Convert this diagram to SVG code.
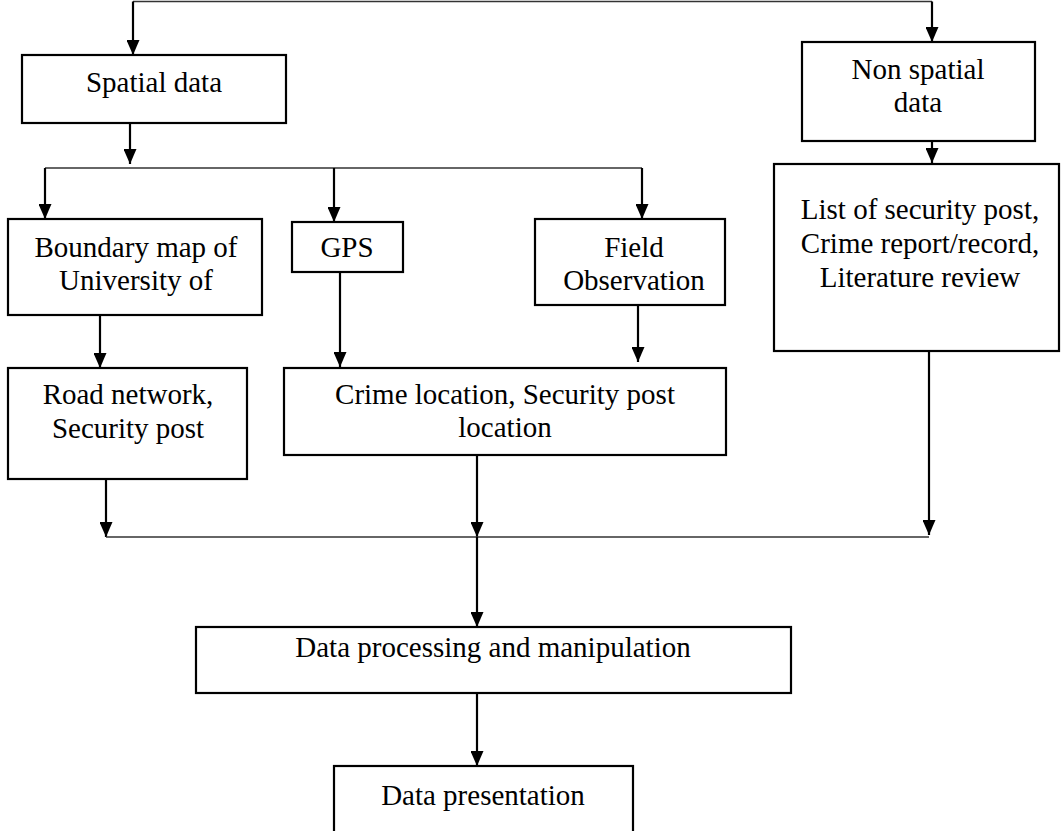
<svg xmlns="http://www.w3.org/2000/svg" width="1061" height="831" viewBox="0 0 1061 831">
<defs>
<marker id="ah" viewBox="0 0 15 13" refX="15" refY="6.5" markerWidth="15" markerHeight="13" markerUnits="userSpaceOnUse" orient="auto">
<path d="M0,0 L15,6.5 L0,13 z" fill="#000"/>
</marker>
<style>
.box{fill:#fff;stroke:#000;stroke-width:2.2}
.t{font-family:"Liberation Serif","Times New Roman",serif;font-size:29px;fill:#000;text-anchor:middle}
.c{fill:none;stroke:#000;stroke-width:2.2}
.h{fill:none;stroke:#333;stroke-width:1.4}
.a{marker-end:url(#ah)}
</style>
</defs>
<rect width="1061" height="831" fill="#fff"/>
<g id="connectors">
<path class="h" d="M133,1.5 H932"/>
<path class="c a" d="M133,1.5 V55"/>
<path class="c a" d="M932,1.5 V42"/>
<path class="c a" d="M130,123 V164"/>
<path class="h" d="M45,168 H642"/>
<path class="c a" d="M45,168 V219"/>
<path class="c a" d="M334,168 V222"/>
<path class="c a" d="M642,168 V219"/>
<path class="c a" d="M100,315 V368"/>
<path class="c a" d="M340,272 V367"/>
<path class="c a" d="M638,305 V362"/>
<path class="c a" d="M932,123 V163"/>
<path class="c a" d="M106,462 V537"/>
<path class="c a" d="M477,455 V537"/>
<path class="c a" d="M929,351 V535"/>
<path class="h" d="M106,537 H929"/>
<path class="c a" d="M477,537 V627"/>
<path class="c a" d="M477,693 V766"/>
</g>
<g id="spatial">
<rect class="box" x="22" y="55" width="264" height="68"/>
<text class="t" x="154" y="92">Spatial data</text>
</g>
<g id="nonspatial">
<rect class="box" x="802" y="42" width="233" height="99"/>
<text class="t" x="918" y="79">Non spatial</text>
<text class="t" x="918" y="112">data</text>
</g>
<g id="boundary">
<rect class="box" x="8" y="219" width="254" height="96"/>
<text class="t" x="136" y="257">Boundary map of</text>
<text class="t" x="136" y="290">University of</text>
</g>
<g id="gps">
<rect class="box" x="292" y="222" width="111" height="50"/>
<text class="t" x="347" y="257">GPS</text>
</g>
<g id="field">
<rect class="box" x="535" y="219" width="190" height="86"/>
<text class="t" x="634" y="257">Field</text>
<text class="t" x="634" y="290">Observation</text>
</g>
<g id="list">
<rect class="box" x="774" y="164" width="285" height="187"/>
<text class="t" x="920" y="219">List of security post,</text>
<text class="t" x="920" y="253">Crime report/record,</text>
<text class="t" x="920" y="287">Literature review</text>
</g>
<g id="road">
<rect class="box" x="8" y="368" width="239" height="111"/>
<text class="t" x="128" y="404">Road network,</text>
<text class="t" x="128" y="438">Security post</text>
</g>
<g id="crime">
<rect class="box" x="284" y="368" width="442" height="87"/>
<text class="t" x="505" y="404">Crime location, Security post</text>
<text class="t" x="505" y="437">location</text>
</g>
<g id="processing">
<rect class="box" x="196" y="627" width="595" height="66"/>
<text class="t" x="493" y="657">Data processing and manipulation</text>
</g>
<g id="presentation">
<rect class="box" x="334" y="766" width="299" height="80"/>
<text class="t" x="483" y="805">Data presentation</text>
</g>
</svg>
